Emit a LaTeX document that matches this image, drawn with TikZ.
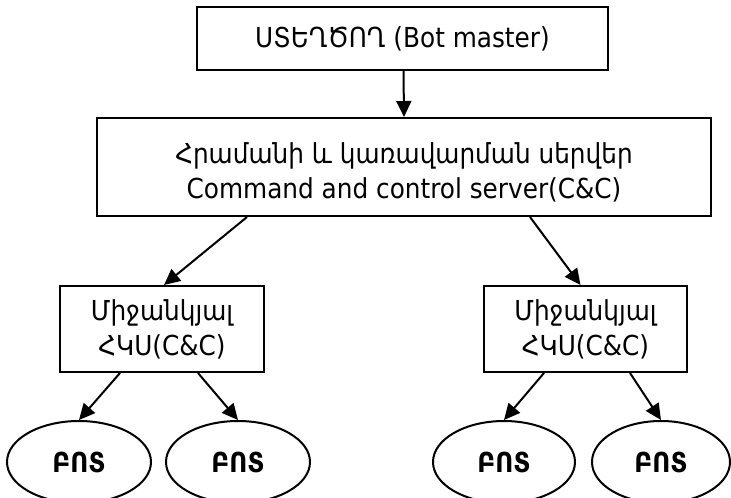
\documentclass[tikz,border=0pt]{standalone}
\usepackage{fontspec}
\setmainfont[FakeStretch=0.9]{DejaVu Sans}
\usetikzlibrary{shapes.geometric,arrows.meta}
\begin{document}
\begin{tikzpicture}[x=1pt,y=1pt,
  every node/.style={font=\fontsize{27.5}{35}\selectfont},
  boxnode/.style={draw,line width=2pt,rectangle,inner sep=0pt,align=center},
  botnode/.style={draw,line width=2pt,ellipse,inner sep=0pt,minimum width=144pt,minimum height=82pt,font=\fontsize{27.5}{35}\selectfont\bfseries},
  conn/.style={line width=2pt,-{Triangle[length=16pt,width=15pt]}}]
\useasboundingbox (0,0) rectangle (731,-498);
\node[boxnode,minimum width=411pt,minimum height=63pt] (top) at (402.5,-38.5) {ՍՏԵՂԾՈՂ (Bot master)};
\node[boxnode,minimum width=614pt,minimum height=98pt] (cc) at (404,-167) {\rule{0pt}{31pt}Հրամանի և կառավարման սերվեր\\Command and control server(C\&C)};
\node[boxnode,minimum width=204pt,minimum height=86pt] (m1) at (162,-329) {Միջանկյալ\\ՀԿՍ(C\&C)};
\node[boxnode,minimum width=203pt,minimum height=86pt] (m2) at (585.5,-329) {Միջանկյալ\\ՀԿՍ(C\&C)};
\node[botnode] (e1) at (79,-462) {ԲՈՏ};
\node[botnode] (e2) at (238,-462) {ԲՈՏ};
\node[botnode,minimum width=142pt] (e3) at (504,-462) {ԲՈՏ};
\node[botnode,minimum width=138pt] (e4) at (661,-462) {ԲՈՏ};
\draw[conn] ([xshift=1pt]top.south) -- ([xshift=0pt]cc.north);
\draw[conn] ([xshift=-157pt]cc.south) -- ([xshift=2pt]m1.north);
\draw[conn] ([xshift=126pt]cc.south) -- ([xshift=-5pt]m2.north);
\draw[conn] ([xshift=-42pt]m1.south) -- (e1.north);
\draw[conn] ([xshift=36pt]m1.south) -- (e2.north);
\draw[conn] ([xshift=-41.5pt]m2.south) -- (e3.north);
\draw[conn] ([xshift=44.5pt]m2.south) -- (e4.north);
\end{tikzpicture}
\end{document}
